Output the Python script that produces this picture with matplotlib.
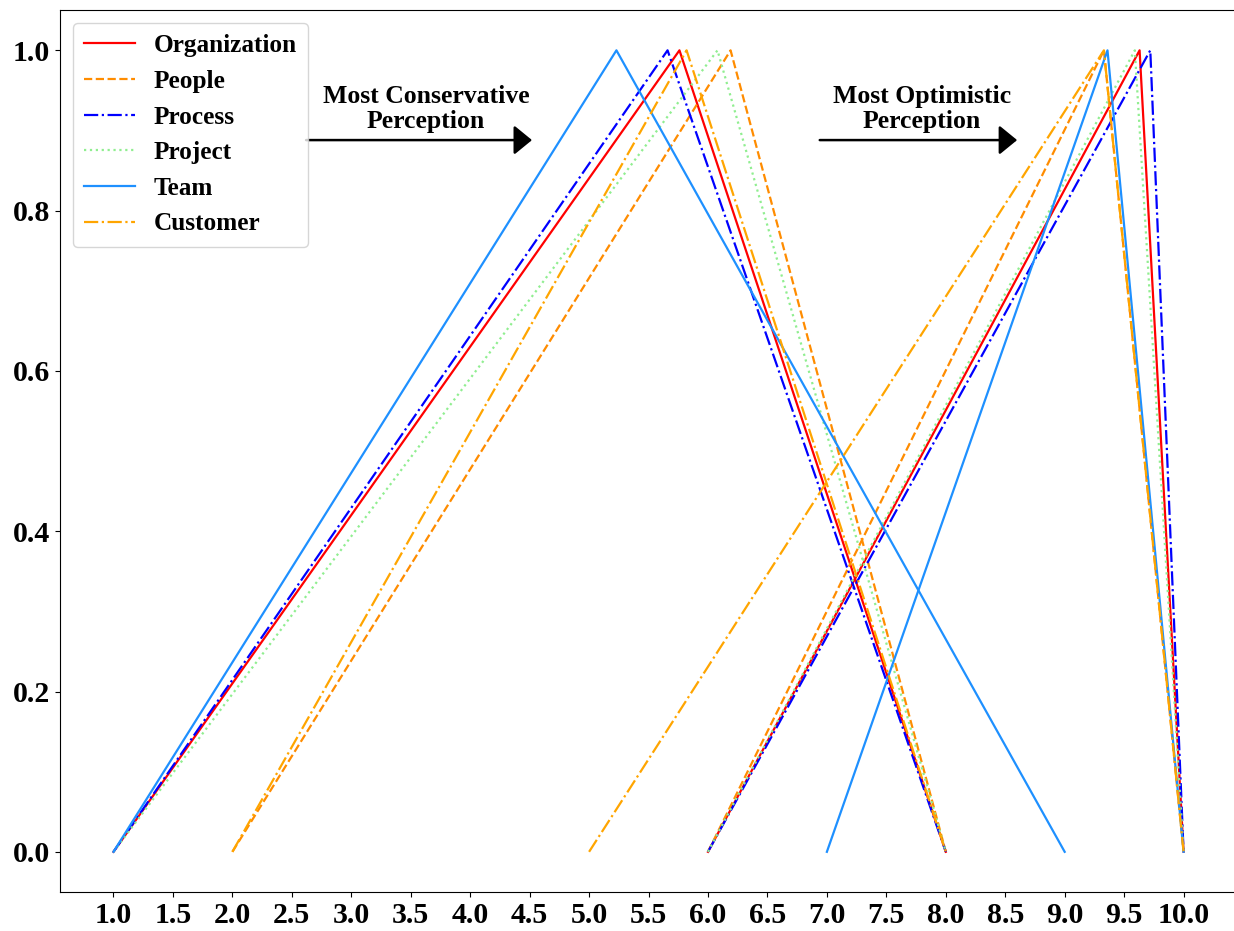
import matplotlib
matplotlib.use("Agg")
import numpy as np
import matplotlib.pyplot as plt

# triangular fuzzy numbers (a, b, c)
categories = ["Organization", "People", "Process", "Project", "Team", "Customer"]
conservative = [
    [1.0, 5.76, 8.0],
    [2.0, 6.19, 8.0],
    [1.0, 5.66, 8.0],
    [1.0, 6.08, 8.0],
    [1.0, 5.23, 9.0],
    [2.0, 5.82, 8.0],
]
optimistic = [
    [6.0, 9.63, 10.0],
    [6.0, 9.33, 10.0],
    [6.0, 9.72, 10.0],
    [6.0, 9.59, 10.0],
    [7.0, 9.36, 10.0],
    [5.0, 9.33, 10.0],
]
membership = [0.0, 1.0, 0.0]

colors = ["red", "darkorange", "blue", "lightgreen", "dodgerblue", "orange"]
styles = ["-", "--", "-.", ":", "-", "-."]

plt.rcParams["font.family"] = ["Liberation Serif", "DejaVu Serif"]
plt.rcParams["font.weight"] = "bold"

fig, ax = plt.subplots(figsize=(12.34, 9.31), dpi=100)
# the original picture is cropped on the right, so the axes run past the edge
fig.subplots_adjust(left=0.0486, right=1.0025, top=0.989, bottom=0.042)

for name, cons, opt, c, ls in zip(categories, conservative, optimistic, colors, styles):
    ax.plot(cons, membership, color=c, linestyle=ls, linewidth=1.6, label=name)
    ax.plot(opt, membership, color=c, linestyle=ls, linewidth=1.6)

ax.set_xticks(np.arange(1.0, 10.01, 0.5))
ax.set_xticklabels([f"{v:.1f}" for v in np.arange(1.0, 10.01, 0.5)])
ax.set_yticks(np.arange(0.0, 1.01, 0.2))
ax.set_yticklabels([f"{v:.1f}" for v in np.arange(0.0, 1.01, 0.2)])
ax.tick_params(labelsize=21.5)
for lbl in ax.get_xticklabels() + ax.get_yticklabels():
    lbl.set_fontweight("bold")

arrow = dict(arrowstyle="-|>,head_length=1.1,head_width=0.9", color="black", lw=1.8,
             shrinkA=0, shrinkB=0)
ax.annotate("", xy=(4.52, 0.888), xytext=(2.62, 0.888), arrowprops=arrow)
ax.text(3.63, 0.927, "Most Conservative\nPerception", ha="center", va="center",
        fontsize=18.5, fontweight="bold", linespacing=1.1)
ax.annotate("", xy=(8.6, 0.888), xytext=(6.94, 0.888), arrowprops=arrow)
ax.text(7.8, 0.927, "Most Optimistic\nPerception", ha="center", va="center",
        fontsize=18.5, fontweight="bold", linespacing=1.1)

ax.legend(loc="upper left", prop={"size": 18.2, "weight": "bold"}, handlelength=2.0,
          borderpad=0.45, labelspacing=0.5, handletextpad=0.75)

fig.savefig("out.png", dpi=100)
